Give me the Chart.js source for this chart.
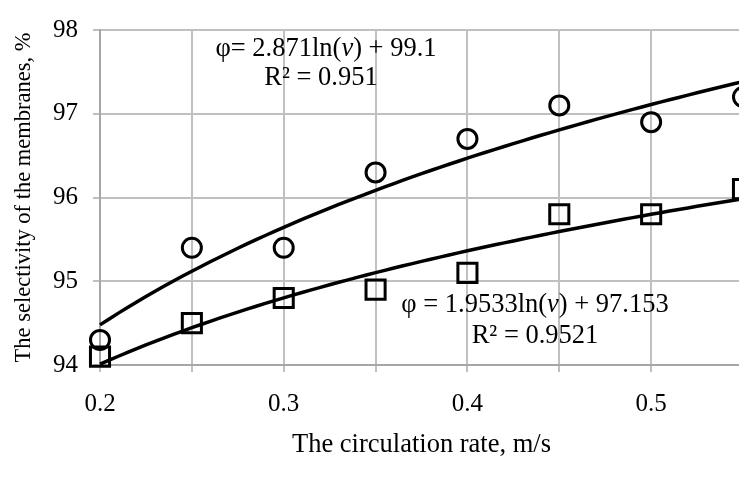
<!DOCTYPE html>
<html>
<head>
<meta charset="utf-8">
<script src="https://cdn.jsdelivr.net/npm/chart.js@4/dist/chart.umd.min.js"></script>
<style>
html,body{margin:0;padding:0;background:#fff;overflow:hidden;}
#wrap{width:739px;height:477px;overflow:hidden;position:relative;}
#box{width:760px;height:477px;position:absolute;left:0;top:0;}
</style>
</head>
<body>
<div id="wrap"><div id="box"><canvas id="c"></canvas></div></div>
<script>
// ---- data ----
const rates = [0.2, 0.25, 0.3, 0.35, 0.4, 0.45, 0.5, 0.55];
const selectivityCircles = [94.3, 95.4, 95.4, 96.3, 96.7, 97.1, 96.9, 97.2];
const selectivitySquares = [94.1, 94.5, 94.8, 94.9, 95.1, 95.8, 95.8, 96.1];
// trendline coefficients shown on the chart: phi = a*ln(v) + b
const trendCircles = [2.871, 99.1];
const trendSquares = [1.9533, 97.153];
const xTickLabels = ['0.2', '0.3', '0.4', '0.5'];
const yTickValues = [94, 95, 96, 97, 98];
const xTitle = 'The circulation rate, m/s';
const yTitle = 'The selectivity of the membranes, %';

const FONT = "'Liberation Serif','Times New Roman',serif";
const GRID = '#c0c0c0';

function pts(xs, ys){ return xs.map((x,i)=>({x:x, y:ys[i]})); }
function trend(coef){
  const out = [];
  for (let k = 0; k <= 72; k++) {
    const v = 0.2 + k * 0.005;
    out.push({x: v, y: coef[0] * Math.log(v) + coef[1]});
  }
  return out;
}

const annotations = {
  id: 'annots',
  afterDatasetsDraw(chart) {
    const ctx = chart.ctx;
    const lines = [
      {cx: 326, y: 56, parts: [['φ= 2.871ln(', false], ['v', true], [') + 99.1', false]]},
      {cx: 321, y: 85, parts: [['R² = 0.951', false]]},
      {cx: 535, y: 312, parts: [['φ = 1.9533ln(', false], ['v', true], [') + 97.153', false]]},
      {cx: 535, y: 343, parts: [['R² = 0.9521', false]]}
    ];
    ctx.save();
    ctx.fillStyle = '#000';
    ctx.textBaseline = 'alphabetic';
    ctx.textAlign = 'left';
    for (const ln of lines) {
      let w = 0;
      for (const p of ln.parts) {
        ctx.font = (p[1] ? 'italic ' : '') + '26.5px ' + FONT;
        w += ctx.measureText(p[0]).width;
      }
      let x = ln.cx - w / 2;
      for (const p of ln.parts) {
        ctx.font = (p[1] ? 'italic ' : '') + '26.5px ' + FONT;
        ctx.fillText(p[0], x, ln.y);
        x += ctx.measureText(p[0]).width;
      }
    }
    ctx.restore();
  }
};

new Chart(document.getElementById('c'), {
  type: 'scatter',
  data: {
    datasets: [
      {
        label: 'trend circles', data: trend(trendCircles), showLine: true,
        borderColor: '#000', borderWidth: 3.5, pointRadius: 0, fill: false, tension: 0
      },
      {
        label: 'trend squares', data: trend(trendSquares), showLine: true,
        borderColor: '#000', borderWidth: 3.5, pointRadius: 0, fill: false, tension: 0
      },
      {
        label: 'circles', data: pts(rates, selectivityCircles), showLine: false,
        pointStyle: 'circle', pointRadius: 9.5, borderColor: '#000', borderWidth: 3,
        backgroundColor: 'rgba(0,0,0,0)'
      },
      {
        label: 'squares', data: pts(rates, selectivitySquares), showLine: false,
        pointStyle: 'rect', pointRadius: 13.5, borderColor: '#000', borderWidth: 3,
        backgroundColor: 'rgba(0,0,0,0)'
      }
    ]
  },
  options: {
    responsive: true,
    maintainAspectRatio: false,
    animation: false,
    clip: false,
    layout: {padding: {top: 20, right: 16, left: 0, bottom: 0}},
    plugins: {legend: {display: false}, tooltip: {enabled: false}},
    scales: {
      x: {
        type: 'linear', min: 0.2, max: 0.55,
        afterFit(s){ s.height = 112; },
        ticks: {
          stepSize: 0.05, padding: 17, color: '#000', font: {family: FONT, size: 25},
          maxRotation: 0, autoSkip: false,
          callback(v){ const s = (Math.round(v*100)/100).toString(); return xTickLabels.includes(s) ? s : ''; }
        },
        grid: {color: GRID, lineWidth: 2, tickLength: 7, tickColor: GRID, drawTicks: true},
        border: {color: '#a6a6a6', width: 2},
        title: {display: true, text: xTitle, color: '#000', font: {family: FONT, size: 26.5}, padding: {top: 0, bottom: 16}}
      },
      y: {
        type: 'linear', min: 94, max: 98,
        afterFit(s){ s.width = 100; },
        afterBuildTicks(s){ s.ticks = yTickValues.map(v=>({value:v})); },
        ticks: {padding: 15, color: '#000', font: {family: FONT, size: 25}},
        grid: {color: GRID, lineWidth: 2, tickLength: 7, tickColor: GRID},
        border: {color: '#a6a6a6', width: 2},
        title: {display: true, text: yTitle, color: '#000', font: {family: FONT, size: 22.5}, padding: {top: 11, bottom: 0}}
      }
    }
  },
  plugins: [annotations]
});
</script>
</body>
</html>
